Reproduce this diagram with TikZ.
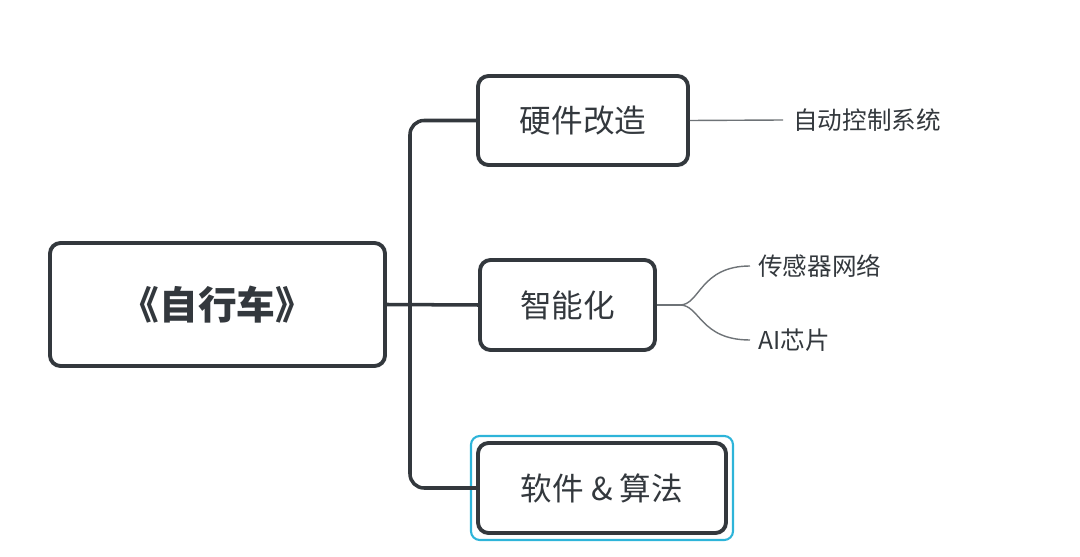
\documentclass[tikz,border=0pt]{standalone}
\usepackage{fontspec}
\setmainfont{Noto Sans CJK SC}
\usetikzlibrary{positioning}
\definecolor{ink}{HTML}{33383D}
\definecolor{twiggray}{HTML}{6E7377}
\definecolor{pick}{HTML}{2EB4D9}
\begin{document}
\begin{tikzpicture}[x=0.02cm,y=-0.02cm]
        \tikzstyle{topic} = [rectangle, rounded corners=6pt, line width=2.2pt, draw=ink, text=ink, inner sep=0pt]
        \tikzstyle{branch} = [draw=ink, line width=2pt, rounded corners=8pt]
        \tikzstyle{twig} = [draw=twiggray, line width=0.8pt]
        \tikzstyle{leaf} = [text=ink, font=\fontsize{14}{16}\selectfont, anchor=west, inner sep=0pt]
        \useasboundingbox (0,0) rectangle (1080,557);
        \node (root) [topic, minimum width=335*0.02cm, minimum height=123*0.02cm, font=\fontsize{22}{26}\selectfont\bfseries] at (217.5, 304.5) {《自行车》};
        \node (hw) [topic, minimum width=210*0.02cm, minimum height=89*0.02cm, font=\fontsize{18}{22}\selectfont] at (583, 120.5) {硬件改造};
        \node (ai) [topic, minimum width=175*0.02cm, minimum height=90*0.02cm, font=\fontsize{18}{22}\selectfont] at (567.5, 305) {智能化};
        \node (sw) [topic, minimum width=248*0.02cm, minimum height=90*0.02cm, font=\fontsize{18}{22}\selectfont] at (602, 488) {软件 \& 算法};
        \draw[pick, line width=1.2pt, rounded corners=5pt] (471, 436) rectangle (733, 540);
        \node (ctrl) [leaf] at (793, 120) {自动控制系统};
        \node (sens) [leaf] at (758, 266) {传感器网络};
        \node (chip) [leaf] at (758, 340) {AI芯片};
        \coordinate (fork) at (680, 305);
        \draw[branch] (root.east) -- (ai.west);
        \draw[branch] (hw.west) -- (410, 120.5) -- (410, 488) -- (sw.west);
        \draw[twig] (hw.east) -- (783, 120);
        \draw[twig] (ai.east) -- (fork);
        \draw[twig] (fork) .. controls (700, 305) and (700, 266) .. (750, 266);
        \draw[twig] (fork) .. controls (700, 305) and (700, 340) .. (750, 340);
\end{tikzpicture}
\end{document}
